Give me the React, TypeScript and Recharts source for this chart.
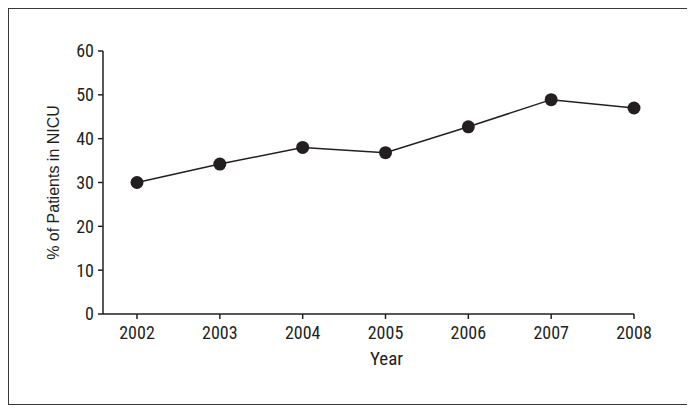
import React from 'react';
import { LineChart, Line, XAxis, YAxis } from 'recharts';

const years = ['2002', '2003', '2004', '2005', '2006', '2007', '2008'];
const nicuPercent = [30, 34.2, 38, 36.8, 42.7, 48.9, 47];
const yTicks = [0, 10, 20, 30, 40, 50, 60];

const data = years.map((year, i) => ({ year, value: nicuPercent[i] }));

const narrow = '"Liberation Sans Narrow", "Arial Narrow", "Roboto Condensed", sans-serif';
const ink = '#231f20';

export default function App() {
  return (
    <div style={{ width: 678, height: 395, border: '1px solid #3a3a3a', background: '#fff' }}>
      <LineChart
        width={678}
        height={395}
        data={data}
        margin={{ top: 42, right: 53, left: 0, bottom: 30 }}
      >
        <XAxis
          dataKey="year"
          padding={{ left: 34, right: 0 }}
          height={60}
          tickSize={5}
          tickMargin={7}
          stroke={ink}
          strokeWidth={1.5}
          tick={{ fill: ink, fontSize: 18, fontFamily: narrow }}
          label={{ value: 'Year', position: 'center', dx: 18, dy: 14, fill: ink, fontSize: 19, fontFamily: narrow }}
        />
        <YAxis
          domain={[0, 60]}
          ticks={yTicks}
          width={94}
          tickSize={5}
          tickMargin={4}
          stroke={ink}
          strokeWidth={1.5}
          tick={{ fill: ink, fontSize: 18, fontFamily: narrow }}
          label={{
            value: '% of Patients in NICU',
            angle: -90,
            position: 'center',
            dx: -3,
            fill: ink,
            fontSize: 16,
            fontFamily: '"Liberation Sans", Arial, sans-serif',
          }}
        />
        <Line
          dataKey="value"
          stroke={ink}
          strokeWidth={1.5}
          dot={{ r: 6.5, fill: ink, stroke: ink, strokeWidth: 0 }}
          isAnimationActive={false}
        />
      </LineChart>
    </div>
  );
}
